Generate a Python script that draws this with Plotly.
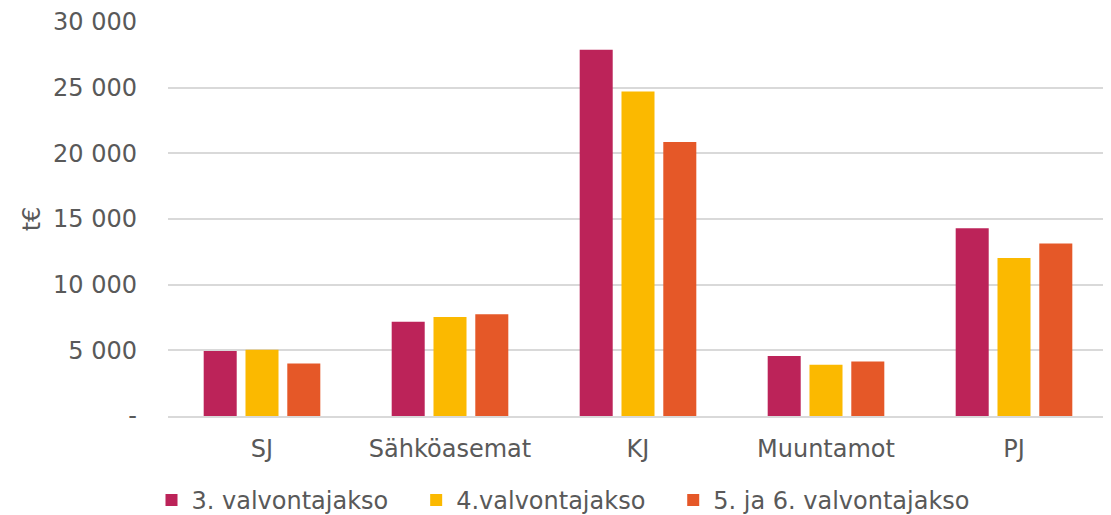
import plotly.graph_objects as go

categories = ["SJ", "Sähköasemat", "KJ", "Muuntamot", "PJ"]
series_names = ["3. valvontajakso", "4.valvontajakso", "5. ja 6. valvontajakso"]
vals_3 = [4950, 7180, 27890, 4560, 14300]
vals_4 = [5050, 7540, 24710, 3900, 12030]
vals_56 = [4000, 7740, 20870, 4150, 13140]
colors = ["#BC2359", "#FBB900", "#E55828"]
tick_vals = [0, 5000, 10000, 15000, 20000, 25000, 30000]
tick_text = ["-", "5 000", "10 000", "15 000", "20 000", "25 000", "30 000"]

FONT = "DejaVu Sans, Verdana, sans-serif"
TXT = "#595959"
PAD = "\u00a0\u00a0\u00a0"

fig = go.Figure()
for i, (name, vals, col) in enumerate(zip(series_names, [vals_3, vals_4, vals_56], colors)):
    label = name + (PAD if i < 2 else "")
    fig.add_trace(go.Bar(x=categories, y=vals, name=label, marker=dict(color=col, line=dict(width=0))))

fig.update_layout(
    width=1111, height=515,
    paper_bgcolor="white", plot_bgcolor="white",
    margin=dict(l=160, r=11, t=14, b=107),
    barmode="group", bargap=0.333, bargroupgap=0.21,
    font=dict(family=FONT, size=24, color=TXT),
    showlegend=True,
    legend=dict(orientation="h", xref="container", yref="container", x=0.5, xanchor="center",
                y=0.0, yanchor="bottom", font=dict(size=24, color=TXT),
                itemwidth=30, tracegroupgap=0, traceorder="normal"),
)
fig.update_yaxes(range=[0, 30000], tickvals=tick_vals, ticktext=tick_text, automargin=False,
                 showgrid=True, gridcolor="#D9D9D9", gridwidth=2, zeroline=False,
                 showline=False, ticks="", ticklabelstandoff=30, ticklabeloverflow="allow",
                 title=dict(text="t€", font=dict(size=24, color=TXT), standoff=5))
fig.update_xaxes(showline=True, linecolor="#D9D9D9", linewidth=2, ticks="", showgrid=False,
                 automargin=False, ticklabelstandoff=10, ticklabeloverflow="allow")

fig.write_html("out.html")
